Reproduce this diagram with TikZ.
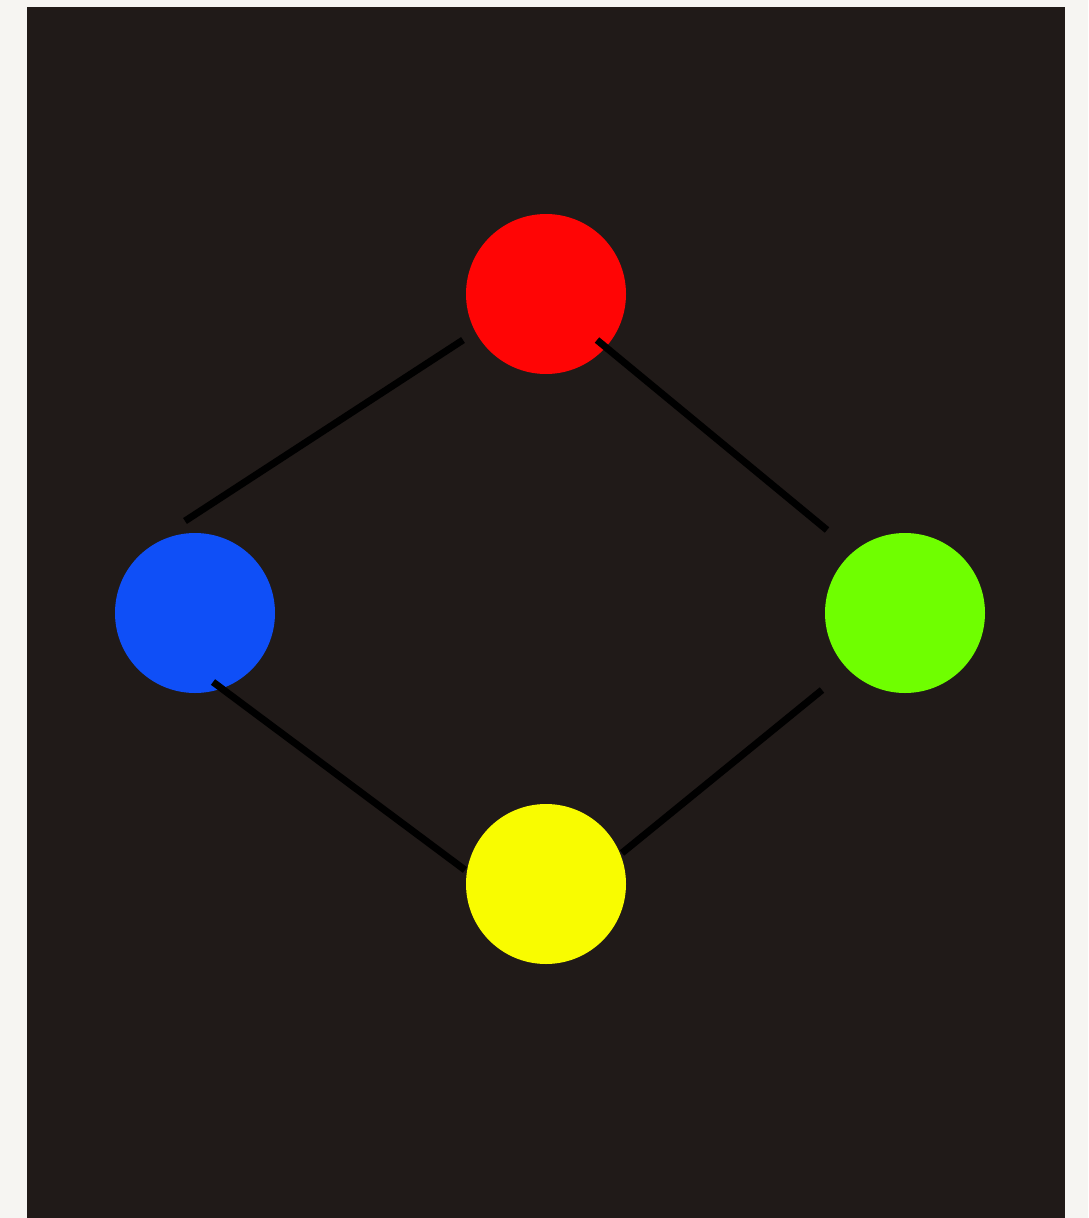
\documentclass[tikz,border=0pt]{standalone}
\definecolor{paper}{HTML}{F6F5F2}
\definecolor{board}{HTML}{201A18}
\definecolor{cred}{HTML}{FF0505}
\definecolor{cblue}{HTML}{0F4FF7}
\definecolor{cgreen}{HTML}{6FFF00}
\definecolor{cyellow}{HTML}{F9FC00}
\tikzset{
  dot/.style={circle, minimum size=160pt, inner sep=0pt, draw=none},
  link/.style={draw=black, line width=7pt, line cap=butt}
}
\begin{document}
\begin{tikzpicture}[x=1pt,y=-1pt]
\fill[paper] (0,0) rectangle (1088,1218);
\useasboundingbox (0,0) rectangle (1088,1218);
\fill[board] (27,7) rectangle (1065,1218);
\node[dot, fill=cred] (red) at (546,294) {};
\node[dot, fill=cblue] (blue) at (195,613) {};
\node[dot, fill=cgreen] (green) at (905,613) {};
\coordinate (rb1) at (463,340);
\coordinate (rb2) at (185,521);
\coordinate (rg1) at (597,340);
\coordinate (rg2) at (827,530);
\coordinate (by1) at (213,682);
\coordinate (by2) at (465,870);
\coordinate (gy1) at (822,690);
\coordinate (gy2) at (622,853);
\draw[link] (rb1) -- (rb2);
\draw[link] (rg1) -- (rg2);
\draw[link] (by1) -- (by2);
\draw[link] (gy1) -- (gy2);
\node[dot, fill=cyellow] (yellow) at (546,884) {};
\end{tikzpicture}
\end{document}
